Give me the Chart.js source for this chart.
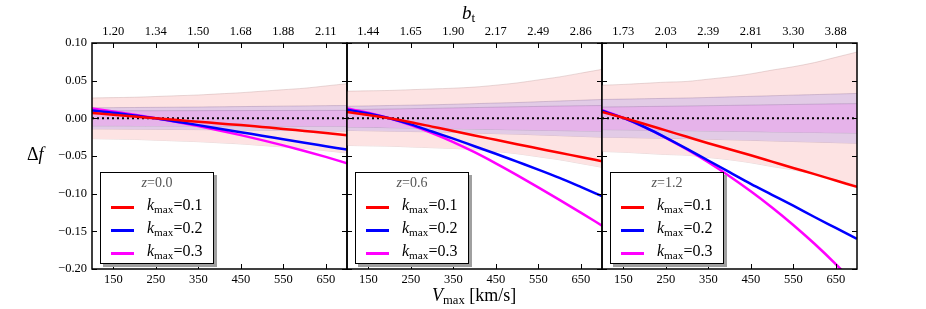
<!DOCTYPE html>
<html>
<head>
<meta charset="utf-8">
<script src="https://cdn.jsdelivr.net/npm/chart.js@4.4.1/dist/chart.umd.min.js"></script>
<style>
  html, body { margin: 0; padding: 0; background: #fff; }
  #wrap { position: relative; width: 926px; height: 309px; overflow: hidden; font-family: "Liberation Serif", "DejaVu Serif", serif; }
  canvas { position: absolute; top: 0; }
  .txt { position: absolute; white-space: nowrap; color: #000; }
  .legend { position: absolute; top: 172px; width: 112px; height: 90px; border: 1.3px solid #000; background: #fff; box-shadow: 3px 3px 0 #a0a0a0; }
  .legend .ttl { position: absolute; left: 0; right: 0; top: 2px; text-align: center; font-size: 14px; color: #555; }
  .legend .row { position: absolute; left: 0; width: 112px; height: 18px; }
  .legend .sw { position: absolute; left: 10px; top: 8px; width: 23px; height: 2.5px; }
  .legend .lb { position: absolute; left: 46px; top: -2px; font-size: 16px; }
  sub { font-size: 70%; vertical-align: -0.25em; }
</style>
</head>
<body>
<div id="wrap">
  <canvas id="p1" width="348" height="309" style="left:0px"></canvas>
  <canvas id="p2" width="257" height="309" style="left:346px"></canvas>
  <canvas id="p3" width="257" height="309" style="left:601px"></canvas>
  <div class="txt" style="left:462px; top:2px; font-size:19px;"><i>b</i><sub style="font-style:normal">t</sub></div>
  <div class="txt" style="left:27px; top:144px; font-size:18px;">&Delta;<i>f</i></div>
  <div class="txt" style="left:432px; top:285px; font-size:18px;"><i>V</i><sub>max</sub> [km/s]</div>
</div>
<script>
// ===== 데이터 =====
const vmax = [100, 150, 200, 250, 300, 350, 400, 450, 500, 550, 600, 650, 700];
const xTicks = [150, 250, 350, 450, 550, 650];
const yTicks = [-0.20, -0.15, -0.10, -0.05, 0.00, 0.05, 0.10];

// top axis b_t labels per redshift
const btZ00 = ['1.20', '1.34', '1.50', '1.68', '1.88', '2.11'];
const btZ06 = ['1.44', '1.65', '1.90', '2.17', '2.49', '2.86'];
const btZ12 = ['1.73', '2.03', '2.39', '2.81', '3.30', '3.88'];

const zLabels = ['0.0', '0.6', '1.2'];
const kLabels = ['0.1', '0.2', '0.3'];
const lineColors = ['#ff0000', '#0000ff', '#ff00ff'];

// Δf curves, kmax = 0.1 / 0.2 / 0.3
const k01Z00 = [0.007, 0.0048, 0.0025, 0.0, -0.0023, -0.0045, -0.0068, -0.009, -0.0115, -0.014, -0.0168, -0.0195, -0.0225];
const k02Z00 = [0.0105, 0.0075, 0.0038, 0.0, -0.0045, -0.009, -0.0138, -0.0185, -0.023, -0.0278, -0.0325, -0.037, -0.0415];
const k03Z00 = [0.013, 0.009, 0.0047, 0.0001, -0.0049, -0.0103, -0.0161, -0.0223, -0.0289, -0.0359, -0.0433, -0.0512, -0.0596];

const k01Z06 = [0.0085, 0.0045, 0.0, -0.0052, -0.011, -0.0168, -0.0227, -0.0285, -0.0343, -0.040, -0.0457, -0.0513, -0.057];
const k02Z06 = [0.0115, 0.0065, 0.0, -0.008, -0.0175, -0.027, -0.037, -0.047, -0.0575, -0.068, -0.079, -0.091, -0.1034];
const k03Z06 = [0.013, 0.0075, 0.0, -0.009, -0.0195, -0.0315, -0.045, -0.0598, -0.0754, -0.0916, -0.1082, -0.1252, -0.1424];

const k01Z12 = [0.0085, 0.0007, -0.0075, -0.016, -0.0245, -0.033, -0.041, -0.049, -0.0575, -0.066, -0.074, -0.0825, -0.091];
const k02Z12 = [0.010, 0.0005, -0.0115, -0.0255, -0.0405, -0.056, -0.0715, -0.087, -0.1015, -0.116, -0.131, -0.1455, -0.160];
const k03Z12 = [0.011, 0.0005, -0.0118, -0.0258, -0.0413, -0.0583, -0.0768, -0.0968, -0.1183, -0.1415, -0.1665, -0.1935, -0.2225];

// error band half widths (symmetric around 0)
const pinkZ00  = [0.027, 0.0275, 0.028, 0.029, 0.030, 0.031, 0.0325, 0.034, 0.036, 0.038, 0.040, 0.043, 0.046];
const lavZ00   = [0.014, 0.0142, 0.0144, 0.0146, 0.0148, 0.015, 0.0153, 0.0156, 0.0159, 0.0162, 0.0165, 0.0168, 0.017];
const innerZ00 = [0.0100, 0.0100, 0.0101, 0.0101, 0.0102, 0.0102, 0.0103, 0.0103, 0.0104, 0.0104, 0.0105, 0.0105, 0.0106];

const pinkZ06  = [0.036, 0.0365, 0.037, 0.038, 0.039, 0.040, 0.0415, 0.044, 0.047, 0.051, 0.055, 0.060, 0.065];
const lavZ06   = [0.016, 0.0165, 0.017, 0.0175, 0.018, 0.0187, 0.0195, 0.0203, 0.021, 0.022, 0.023, 0.024, 0.025];
const innerZ06 = [0.0115, 0.012, 0.0124, 0.0128, 0.0133, 0.0138, 0.0143, 0.0148, 0.0153, 0.0158, 0.0163, 0.0167, 0.017];

const pinkZ12  = [0.044, 0.045, 0.0465, 0.048, 0.049, 0.052, 0.055, 0.059, 0.064, 0.0685, 0.074, 0.081, 0.088];
const lavZ12   = [0.025, 0.0255, 0.026, 0.0265, 0.027, 0.0277, 0.0285, 0.0292, 0.030, 0.0308, 0.0315, 0.0323, 0.033];
const innerZ12 = [0.015, 0.0153, 0.0157, 0.016, 0.0164, 0.0168, 0.0172, 0.0176, 0.018, 0.0184, 0.0188, 0.0192, 0.0195];

const FONT = '"Liberation Serif", "DejaVu Serif", serif';

// 프레임 + 안쪽 눈금 (matplotlib 스타일)
const frameTicks = {
    id: 'frameTicks',
    afterDatasetsDraw(chart) {
        const { ctx, chartArea: a, scales } = chart;
        ctx.save();
        ctx.strokeStyle = '#000';
        ctx.lineWidth = 1;
        ctx.beginPath();
        xTicks.forEach(v => {
            const px = Math.round(scales.x.getPixelForValue(v)) + 0.5;
            ctx.moveTo(px, a.bottom); ctx.lineTo(px, a.bottom - 5);
            ctx.moveTo(px, a.top); ctx.lineTo(px, a.top + 5);
        });
        yTicks.forEach(v => {
            const py = Math.round(scales.y.getPixelForValue(v)) + 0.5;
            ctx.moveTo(a.left, py); ctx.lineTo(a.left + 5, py);
            ctx.moveTo(a.right, py); ctx.lineTo(a.right - 5, py);
        });
        ctx.stroke();
        ctx.lineWidth = 1.5;
        ctx.strokeRect(a.left, a.top, a.right - a.left, a.bottom - a.top);
        ctx.restore();
    }
};

function pts(arr, sign) {
    return vmax.map((x, i) => ({ x, y: sign * arr[i] }));
}

function bandPair(arr, fillColor, edgeColor) {
    const common = { pointRadius: 0, borderWidth: 0.8, borderColor: edgeColor, tension: 0.3 };
    return [
        { ...common, data: pts(arr, 1), fill: '+1', backgroundColor: fillColor },
        { ...common, data: pts(arr, -1), fill: false },
    ];
}

function createPanel(canvasId, curves, bands, btLabels, showY) {
    const ctx = document.getElementById(canvasId);
    const lines = curves.map((c, i) => ({
        data: pts(c, 1),
        borderColor: lineColors[i],
        borderWidth: 2.5,
        pointRadius: 0,
        fill: false,
        cubicInterpolationMode: 'monotone',
    }));
    const zero = {
        data: [{ x: vmax[0], y: 0 }, { x: vmax[vmax.length - 1], y: 0 }],
        borderColor: '#000',
        borderWidth: 2,
        borderDash: [2, 3],
        pointRadius: 0,
        fill: false,
    };
    const datasets = [
        ...lines,
        zero,
        ...bandPair(bands[2], '#e6b3ea', 'rgba(120,90,140,0.35)'),
        ...bandPair(bands[1], '#e2cbe6', 'rgba(120,90,140,0.35)'),
        ...bandPair(bands[0], '#fde3e3', 'rgba(190,150,150,0.45)'),
    ];

    const tickFont = { family: FONT, size: 12.5 };
    new Chart(ctx, {
        type: 'line',
        data: { datasets },
        options: {
            responsive: false,
            animation: false,
            devicePixelRatio: 1,
            layout: { padding: { left: showY ? 0 : 1, right: 1, top: 0, bottom: 0 } },
            scales: {
                x: {
                    type: 'linear', position: 'bottom', min: 100, max: 700,
                    afterBuildTicks: s => { s.ticks = xTicks.map(v => ({ value: v })); },
                    afterFit: s => { s.height = 40; },
                    grid: { display: false, drawTicks: false },
                    border: { display: false },
                    ticks: { color: '#000', font: tickFont, padding: 3, autoSkip: false, maxRotation: 0 },
                },
                x2: {
                    type: 'linear', position: 'top', min: 100, max: 700,
                    afterBuildTicks: s => { s.ticks = xTicks.map(v => ({ value: v })); },
                    afterFit: s => { s.height = 43; },
                    grid: { display: false, drawTicks: false },
                    border: { display: false },
                    ticks: {
                        color: '#000', font: tickFont, padding: 4, autoSkip: false, maxRotation: 0,
                        callback: v => btLabels[xTicks.indexOf(v)],
                    },
                },
                y: {
                    type: 'linear', min: -0.2, max: 0.1, display: showY,
                    afterBuildTicks: s => { s.ticks = yTicks.map(v => ({ value: v })); },
                    afterFit: s => { s.width = showY ? 92 : 0; },
                    grid: { display: false, drawTicks: false },
                    border: { display: false },
                    ticks: {
                        color: '#000', font: tickFont, padding: 5,
                        callback: v => v.toFixed(2).replace('-', '\u2212'),
                    },
                },
            },
            plugins: {
                legend: { display: false },
                tooltip: { enabled: false },
            },
        },
        plugins: [frameTicks],
    });
}

function createLegend(left, zLabel) {
    const box = document.createElement('div');
    box.className = 'legend';
    box.style.left = left + 'px';
    let html = `<div class="ttl"><i>z</i>=${zLabel}</div>`;
    kLabels.forEach((k, i) => {
        html += `<div class="row" style="top:${25 + i * 23}px">` +
            `<div class="sw" style="background:${lineColors[i]}"></div>` +
            `<div class="lb"><i>k</i><sub>max</sub>=${k}</div></div>`;
    });
    box.innerHTML = html;
    document.getElementById('wrap').appendChild(box);
}

createPanel('p1', [k01Z00, k02Z00, k03Z00], [pinkZ00, lavZ00, innerZ00], btZ00, true);
createPanel('p2', [k01Z06, k02Z06, k03Z06], [pinkZ06, lavZ06, innerZ06], btZ06, false);
createPanel('p3', [k01Z12, k02Z12, k03Z12], [pinkZ12, lavZ12, innerZ12], btZ12, false);

createLegend(100, zLabels[0]);
createLegend(355, zLabels[1]);
createLegend(610, zLabels[2]);
</script>
</body>
</html>
